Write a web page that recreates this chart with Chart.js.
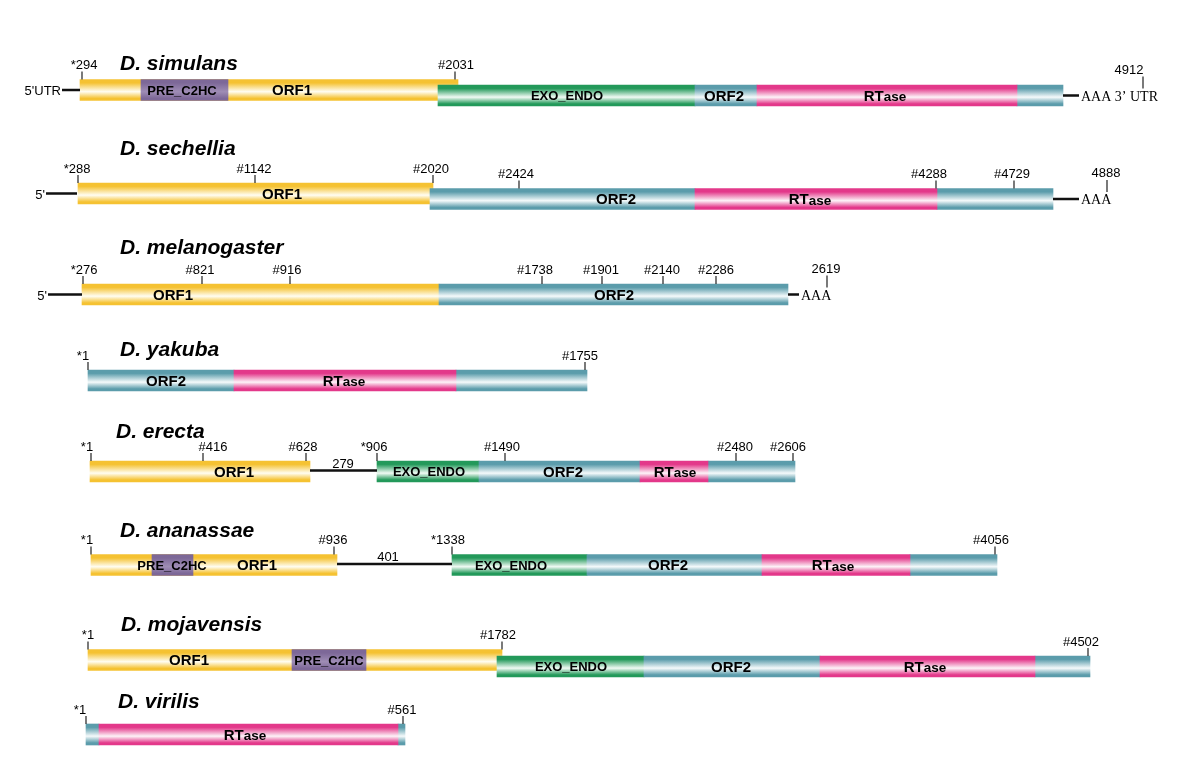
<!DOCTYPE html>
<html>
<head>
<meta charset="utf-8">
<script src="https://cdn.jsdelivr.net/npm/chart.js@4.4.1/dist/chart.umd.min.js"></script>
<style>
  html, body { margin: 0; padding: 0; background: #fff; }
  #wrap { width: 1200px; height: 774px; }
</style>
</head>
<body>
<div id="wrap"><canvas id="chart" width="1200" height="774"></canvas></div>
<script>
const species = ['D. simulans', 'D. sechellia', 'D. melanogaster', 'D. yakuba',
                 'D. erecta', 'D. ananassae', 'D. mojavensis', 'D. virilis'];

// track centres on the diagram's vertical axis; lane 0 = ORF1 part, lane 1 = ORF2 part
const orf1Y = [90, 193.5, 294.5, 380.5, 471.5, 565, 660, 734.5];
const orf2Y = [95.5, 199, 294.5, 380.5, 471.5, 565, 666.5, 734.5];

// domains along the diagram: [row, start, end]
const orf1Seg = [[0, 80, 458], [1, 78, 433], [2, 82, 439], [4, 90, 310], [5, 91, 337], [6, 88, 502]];
const preSeg  = [[0, 141, 228], [5, 152, 193], [6, 292, 366]];
const exoSeg  = [[0, 438, 695], [4, 377, 479], [5, 452, 587], [6, 497, 644]];
const orf2Seg = [[0, 695, 757], [0, 1017, 1063], [1, 430, 695], [1, 937, 1053], [2, 439, 788],
                 [3, 88, 234], [3, 456, 587], [4, 479, 640], [4, 708, 795], [5, 587, 762],
                 [5, 910, 997], [6, 644, 820], [6, 1035, 1090], [7, 86, 99], [7, 398, 405]];
const rtSeg   = [[0, 757, 1017], [1, 695, 937], [3, 234, 456], [4, 640, 708], [5, 762, 910],
                 [6, 820, 1035], [7, 99, 398]];

// domain names written on the bars: [row, x, text, lane]
const segLabels = [
  [0, 182, 'PRE_C2HC', 0], [0, 292, 'ORF1', 0], [0, 567, 'EXO_ENDO', 1], [0, 724, 'ORF2', 1], [0, 885, 'RTase', 1],
  [1, 282, 'ORF1', 0], [1, 616, 'ORF2', 1], [1, 810, 'RTase', 1],
  [2, 173, 'ORF1', 0], [2, 614, 'ORF2', 1],
  [3, 166, 'ORF2', 1], [3, 344, 'RTase', 1],
  [4, 234, 'ORF1', 0], [4, 429, 'EXO_ENDO', 1], [4, 563, 'ORF2', 1], [4, 675, 'RTase', 1],
  [5, 172, 'PRE_C2HC', 0], [5, 257, 'ORF1', 0], [5, 511, 'EXO_ENDO', 1], [5, 668, 'ORF2', 1], [5, 833, 'RTase', 1],
  [6, 189, 'ORF1', 0], [6, 329, 'PRE_C2HC', 0], [6, 571, 'EXO_ENDO', 1], [6, 731, 'ORF2', 1], [6, 925, 'RTase', 1],
  [7, 245, 'RTase', 1]
];

// position marks above the bars
const tickRow    = [0, 0, 1, 1, 1, 1, 1, 1, 2, 2, 2, 2, 2, 2, 2, 3, 3, 4, 4, 4, 4, 4, 4, 4, 5, 5, 5, 5, 6, 6, 6, 7, 7];
const tickLane   = [0, 0, 0, 0, 0, 1, 1, 1, 0, 0, 0, 1, 1, 1, 1, 1, 1, 0, 0, 0, 1, 1, 1, 1, 0, 0, 1, 1, 0, 0, 1, 1, 1];
const tickX      = [82, 455, 78, 255, 433, 519, 936, 1014, 83, 202, 290, 542, 602, 663, 716, 88, 585,
                    91, 203, 306, 377, 505, 736, 793, 91, 334, 452, 995, 88, 502, 1088, 86, 403];
const tickLabelX = [84, 456, 77, 254, 431, 516, 929, 1012, 84, 200, 287, 535, 601, 662, 716, 83, 580,
                    87, 213, 303, 374, 502, 735, 788, 87, 333, 448, 991, 88, 498, 1081, 80, 402];
const tickText   = ['*294', '#2031', '*288', '#1142', '#2020', '#2424', '#4288', '#4729',
                    '*276', '#821', '#916', '#1738', '#1901', '#2140', '#2286', '*1', '#1755',
                    '*1', '#416', '#628', '*906', '#1490', '#2480', '#2606',
                    '*1', '#936', '*1338', '#4056', '*1', '#1782', '#4502', '*1', '#561'];

// 5' ends
const headRow  = [0, 1, 2];
const headFrom = [62, 46, 48];
const headTo   = [80, 77, 82];
const headText = ["5'UTR", "5'", "5'"];

// 3' ends
const tailRow    = [0, 1, 2];
const tailFrom   = [1063, 1053, 788];
const tailTo     = [1079, 1079, 799];
const tailText   = ['AAA 3\u2019 UTR', 'AAA', 'AAA'];
const tailMarkX  = [1143, 1107, 827];
const tailLabelX = [1129, 1106, 826];
const tailMark   = ['4912', '4888', '2619'];

// spacers between ORF1 and ORF2
const gapRow    = [4, 5];
const gapFrom   = [310, 337];
const gapTo     = [377, 452];
const gapLabelX = [343, 388];
const gapText   = ['279', '401'];

// species name placement
const titleX    = [120, 120, 120, 120, 116, 120, 121, 118];
const titleBase = [69.5, 155, 254, 356, 438, 537, 631, 708];

const BAR = 21;
const laneY = (row, lane) => lane ? orf2Y[row] : orf1Y[row];

function gloss(edge, mid) {
  return (c) => {
    const chart = c.chart;
    if (c.type !== 'data' || !chart.chartArea) return edge;
    const yc = chart.scales.y.getPixelForValue(c.raw.y);
    const g = chart.ctx.createLinearGradient(0, yc - BAR / 2, 0, yc + BAR / 2);
    g.addColorStop(0, edge);
    g.addColorStop(0.16, edge);
    g.addColorStop(0.58, mid);
    g.addColorStop(0.9, edge);
    g.addColorStop(1, edge);
    return g;
  };
}

const segData = (segs, lane) => segs.map(([r, a, b]) => ({ x: [a, b], y: laneY(r, lane) }));

function barSet(label, segs, lane, edge, mid, order) {
  return {
    type: 'bar', label, data: segData(segs, lane), order,
    backgroundColor: gloss(edge, mid), borderWidth: 0, borderSkipped: false,
    grouped: false, barThickness: BAR
  };
}

// connector lines (5' tails, 3' tails, spacers), broken by null points
const connectors = [];
headRow.forEach((r, i) => connectors.push({ x: headFrom[i], y: orf1Y[r] }, { x: headTo[i], y: orf1Y[r] }, { x: null, y: null }));
tailRow.forEach((r, i) => connectors.push({ x: tailFrom[i], y: orf2Y[r] }, { x: tailTo[i], y: orf2Y[r] }, { x: null, y: null }));
gapRow.forEach((r, i) => connectors.push({ x: gapFrom[i], y: orf1Y[r] - 1 }, { x: gapTo[i], y: orf1Y[r] - 1 }, { x: null, y: null }));

const ticks = [];
tickX.forEach((tx, i) => {
  const top = laneY(tickRow[i], tickLane[i]) - BAR / 2;
  ticks.push({ x: tx, y: top - 8 }, { x: tx, y: top }, { x: null, y: null });
});
tailMarkX.forEach((tx, i) => {
  const c = orf2Y[tailRow[i]];
  ticks.push({ x: tx, y: c - 19 }, { x: tx, y: c - 7 }, { x: null, y: null });
});

const annotate = {
  id: 'annotate',
  afterDatasetsDraw(chart) {
    const { ctx, scales: { x, y } } = chart;
    const px = v => x.getPixelForValue(v);
    const py = v => y.getPixelForValue(v);
    const sans = '"Liberation Sans", Arial, sans-serif';
    ctx.save();
    ctx.fillStyle = '#000';
    ctx.textBaseline = 'alphabetic';

    ctx.font = 'italic bold 21px ' + sans;
    ctx.textAlign = 'left';
    species.forEach((s, i) => ctx.fillText(s, px(titleX[i]), py(titleBase[i])));

    ctx.font = '13px ' + sans;
    ctx.textAlign = 'center';
    tickText.forEach((t, i) => {
      const top = laneY(tickRow[i], tickLane[i]) - BAR / 2;
      ctx.fillText(t, px(tickLabelX[i]), py(top - 10.5));
    });
    tailMark.forEach((t, i) => ctx.fillText(t, px(tailLabelX[i]), py(orf2Y[tailRow[i]] - 22)));
    gapText.forEach((t, i) => ctx.fillText(t, px(gapLabelX[i]), py(orf1Y[gapRow[i]] - 4)));

    ctx.textAlign = 'right';
    headText.forEach((t, i) => ctx.fillText(t, px(headFrom[i] - 1), py(orf1Y[headRow[i]] + 5)));

    ctx.font = '14px "Liberation Serif", "Times New Roman", serif';
    ctx.textAlign = 'left';
    tailText.forEach((t, i) => ctx.fillText(t, px(tailTo[i] + 2), py(orf2Y[tailRow[i]] + 5)));

    ctx.textBaseline = 'middle';
    segLabels.forEach(([r, lx, t, lane]) => {
      const cy = py(laneY(r, lane) + 1);
      if (t === 'RTase') {
        ctx.font = 'bold 15px ' + sans;
        const w1 = ctx.measureText('RT').width;
        ctx.font = 'bold 13.5px ' + sans;
        const w2 = ctx.measureText('ase').width;
        const start = px(lx) - (w1 + w2) / 2;
        ctx.textAlign = 'left';
        ctx.font = 'bold 15px ' + sans;
        ctx.fillText('RT', start, cy);
        ctx.font = 'bold 13.5px ' + sans;
        ctx.fillText('ase', start + w1, cy + 1);
      } else {
        ctx.textAlign = 'center';
        ctx.font = (t.startsWith('ORF') ? 'bold 15px ' : 'bold 13px ') + sans;
        ctx.fillText(t, px(lx), cy);
      }
    });
    ctx.restore();
  }
};

new Chart(document.getElementById('chart'), {
  data: {
    datasets: [
      { type: 'line', label: 'connectors', data: connectors, borderColor: '#111', borderWidth: 2.6,
        pointRadius: 0, spanGaps: false, order: 0 },
      { type: 'line', label: 'ticks', data: ticks, borderColor: '#222', borderWidth: 1.2,
        pointRadius: 0, spanGaps: false, order: 0 },
      barSet('RTase', rtSeg, 1, '#E3388A', '#FDF3F8', 1),
      barSet('ORF2', orf2Seg, 1, '#5B9CAB', '#F5FAFB', 2),
      barSet('EXO_ENDO', exoSeg, 1, '#23995A', '#F1FAF4', 3),
      barSet('PRE_C2HC', preSeg, 0, '#7D6898', '#9F8DB5', 4),
      barSet('ORF1', orf1Seg, 0, '#F5C232', '#FFFDF2', 5)
    ]
  },
  options: {
    responsive: false,
    animation: false,
    indexAxis: 'y',
    layout: { padding: 0 },
    plugins: { legend: { display: false }, tooltip: { enabled: false } },
    scales: {
      x: { type: 'linear', min: 0, max: 1200, offset: false, display: false },
      y: { type: 'linear', min: 0, max: 774, reverse: true, offset: false, display: false }
    }
  },
  plugins: [annotate]
});
</script>
</body>
</html>
